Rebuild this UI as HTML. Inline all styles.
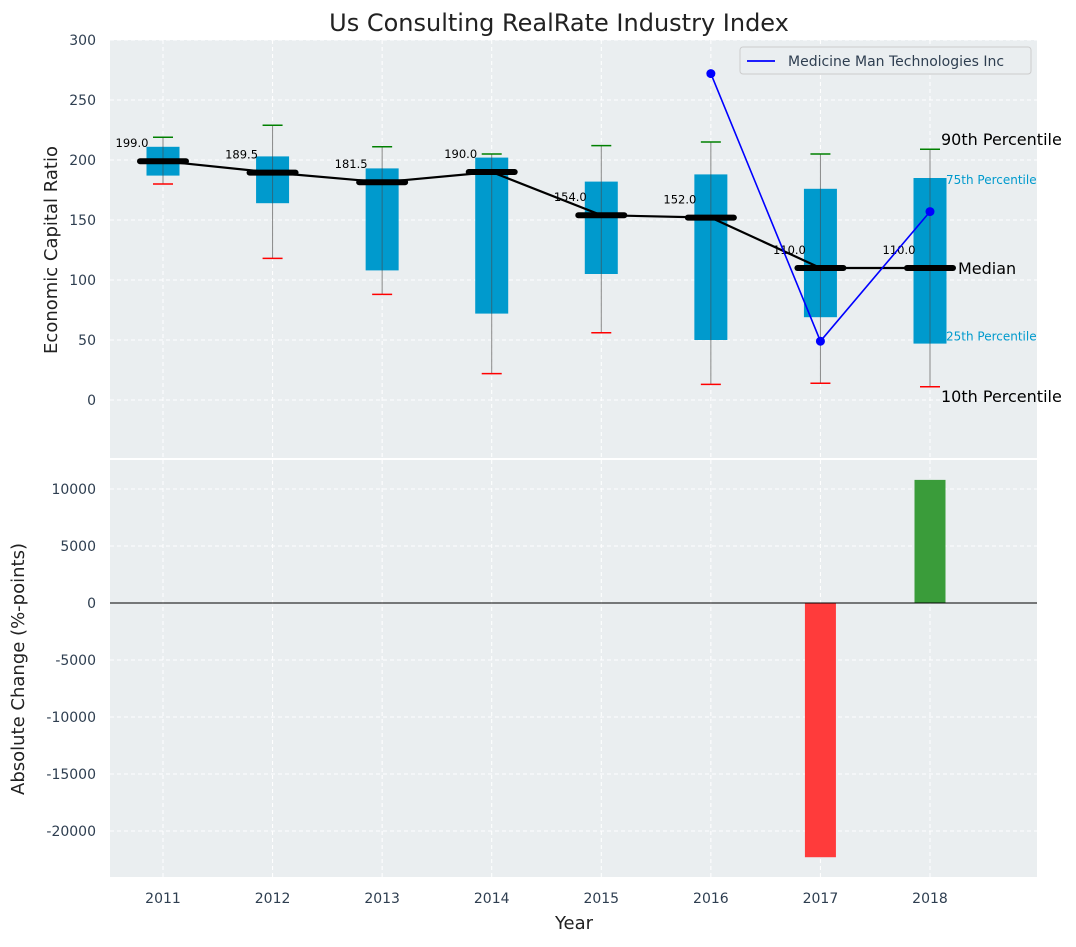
<!DOCTYPE html>
<html><head><meta charset="utf-8"><style>
body{margin:0;background:#fff;font-family:"Liberation Sans","DejaVu Sans",sans-serif;}
svg text{font-family:"DejaVu Sans","Liberation Sans",sans-serif;}
</style></head><body>
<svg id="c" width="1076" height="942" xmlns="http://www.w3.org/2000/svg"></svg>
<script>
const years=[2011,2012,2013,2014,2015,2016,2017,2018];
const p10=[180,118,88,22,56,13,14,11];
const p25=[187,164,108,72,105,50,69,47];
const med=[199,189.5,181.5,190,154,152,110,110];
const p75=[211,203,193,202,182,188,176,185];
const p90=[219,229,211,205,212,215,205,209];
const compYears=[2016,2017,2018];
const compVals=[272,49,157];
const chgYears=[2017,2018];
const chgVals=[-22300,10800];
const topTicks=[0,50,100,150,200,250,300];
const botTicks=[-20000,-15000,-10000,-5000,0,5000,10000];

const svg=document.getElementById('c');
const NS='http://www.w3.org/2000/svg';
function el(t,a,txt){const e=document.createElementNS(NS,t);for(const k in a)e.setAttribute(k,a[k]);if(txt!==undefined)e.textContent=txt;svg.appendChild(e);return e;}
const L=110,R=1037;
const X=v=>163+(v-2011)*(930-163)/7;
const T0=40,T1=458;const Yt=v=>400-v*1.2;
const B0=460,B1=877;const Yb=v=>603-v*114/10000;

let e;
e=el('rect',{x:L,y:T0,width:R-L,height:T1-T0,fill:'#eaeef0'});

e=el('rect',{x:L,y:B0,width:R-L,height:B1-B0,fill:'#eaeef0'});


years.forEach(y=>{
 el('line',{x1:X(y),x2:X(y),y1:T0,y2:T1,stroke:'#fff','stroke-dasharray':'4,3','stroke-width':1});
 el('line',{x1:X(y),x2:X(y),y1:B0,y2:B1,stroke:'#fff','stroke-dasharray':'4,3','stroke-width':1});
 e=el('text',{x:X(y),y:903,'text-anchor':'middle','font-size':14,fill:'#2e3e50'},y);
 
});
topTicks.forEach(v=>{
 el('line',{x1:L,x2:R,y1:Yt(v),y2:Yt(v),stroke:'#fff','stroke-dasharray':'4,3'});
 e=el('text',{x:96,y:Yt(v)+5,'text-anchor':'end','font-size':14,fill:'#2e3e50'},v);
 
});
botTicks.forEach(v=>{
 el('line',{x1:L,x2:R,y1:Yb(v),y2:Yb(v),stroke:'#fff','stroke-dasharray':'4,3'});
 e=el('text',{x:96,y:Yb(v)+5,'text-anchor':'end','font-size':14,fill:'#2e3e50'},v);
 
});

years.forEach((y,i)=>{
 const x=X(y);
 el('line',{x1:x,x2:x,y1:Yt(p90[i]),y2:Yt(p10[i]),stroke:'#888','stroke-width':1});
 e=el('rect',{x:x-16.5,y:Yt(p75[i]),width:33,height:Yt(p25[i])-Yt(p75[i]),fill:'#009acd'});
 
 el('line',{x1:x,x2:x,y1:Yt(p75[i]),y2:Yt(p25[i]),stroke:'#2a6a80','stroke-width':1});
 el('line',{x1:x-10,x2:x+10,y1:Yt(p90[i]),y2:Yt(p90[i]),stroke:'green','stroke-width':1.5});
 el('line',{x1:x-10,x2:x+10,y1:Yt(p10[i]),y2:Yt(p10[i]),stroke:'red','stroke-width':1.5});
 e=el('line',{x1:x-23,x2:x+23,y1:Yt(med[i]),y2:Yt(med[i]),stroke:'#000','stroke-width':6,'stroke-linecap':'round'});
 
 e=el('text',{x:x-31,y:Yt(med[i])-14,'text-anchor':'middle','font-size':11.5,fill:'#000'},med[i].toFixed(1));
 
});
e=el('polyline',{points:years.map((y,i)=>X(y)+','+Yt(med[i])).join(' '),fill:'none',stroke:'#000','stroke-width':2.2});

e=el('polyline',{points:compYears.map((y,i)=>X(y)+','+Yt(compVals[i])).join(' '),fill:'none',stroke:'blue','stroke-width':1.6});

compYears.forEach((y,i)=>{e=el('circle',{cx:X(y),cy:Yt(compVals[i]),r:4.5,fill:'blue'});
 });

const lx=X(2018);
[['90th Percentile',Yt(p90[7])-4,16,'#000',11],['75th Percentile',Yt(p75[7])+6,12,'#009acd',16],['Median',Yt(med[7])+6,16,'#000',28],['25th Percentile',Yt(p25[7])-3,12,'#009acd',16],['10th Percentile',Yt(p10[7])+15,16,'#000',11]].forEach(a=>{
 e=el('text',{x:lx+a[4],y:a[1],'font-size':a[2],fill:a[3]},a[0]);
 
});

e=el('rect',{x:740,y:47,width:291,height:27,fill:'#eaeef0',stroke:'#ccc',rx:3});

el('line',{x1:747,x2:775,y1:61,y2:61,stroke:'blue','stroke-width':1.8});
e=el('text',{x:788,y:66,'font-size':14,fill:'#2e3e50'},'Medicine Man Technologies Inc');


chgYears.forEach((y,i)=>{const v=chgVals[i];
 e=el('rect',{x:X(y)-15.5,y:Math.min(Yb(0),Yb(v)),width:31,height:Math.abs(Yb(v)-Yb(0)),fill:v<0?'#ff3b3b':'#3a9c3a'});
 
});
el('line',{x1:L,x2:R,y1:Yb(0),y2:Yb(0),stroke:'#000','stroke-width':1});

e=el('text',{x:559,y:31,'text-anchor':'middle','font-size':24,fill:'#222'},'Us Consulting RealRate Industry Index');

e=el('text',{x:574,y:929,'text-anchor':'middle','font-size':18,fill:'#222'},'Year');

e=el('text',{x:57,y:250,'text-anchor':'middle','font-size':18,fill:'#222',transform:'rotate(-90 57 250)'},'Economic Capital Ratio');

e=el('text',{x:24,y:669,'text-anchor':'middle','font-size':18,fill:'#222',transform:'rotate(-90 24 669)'},'Absolute Change (%-points)');

</script>
</body></html>
